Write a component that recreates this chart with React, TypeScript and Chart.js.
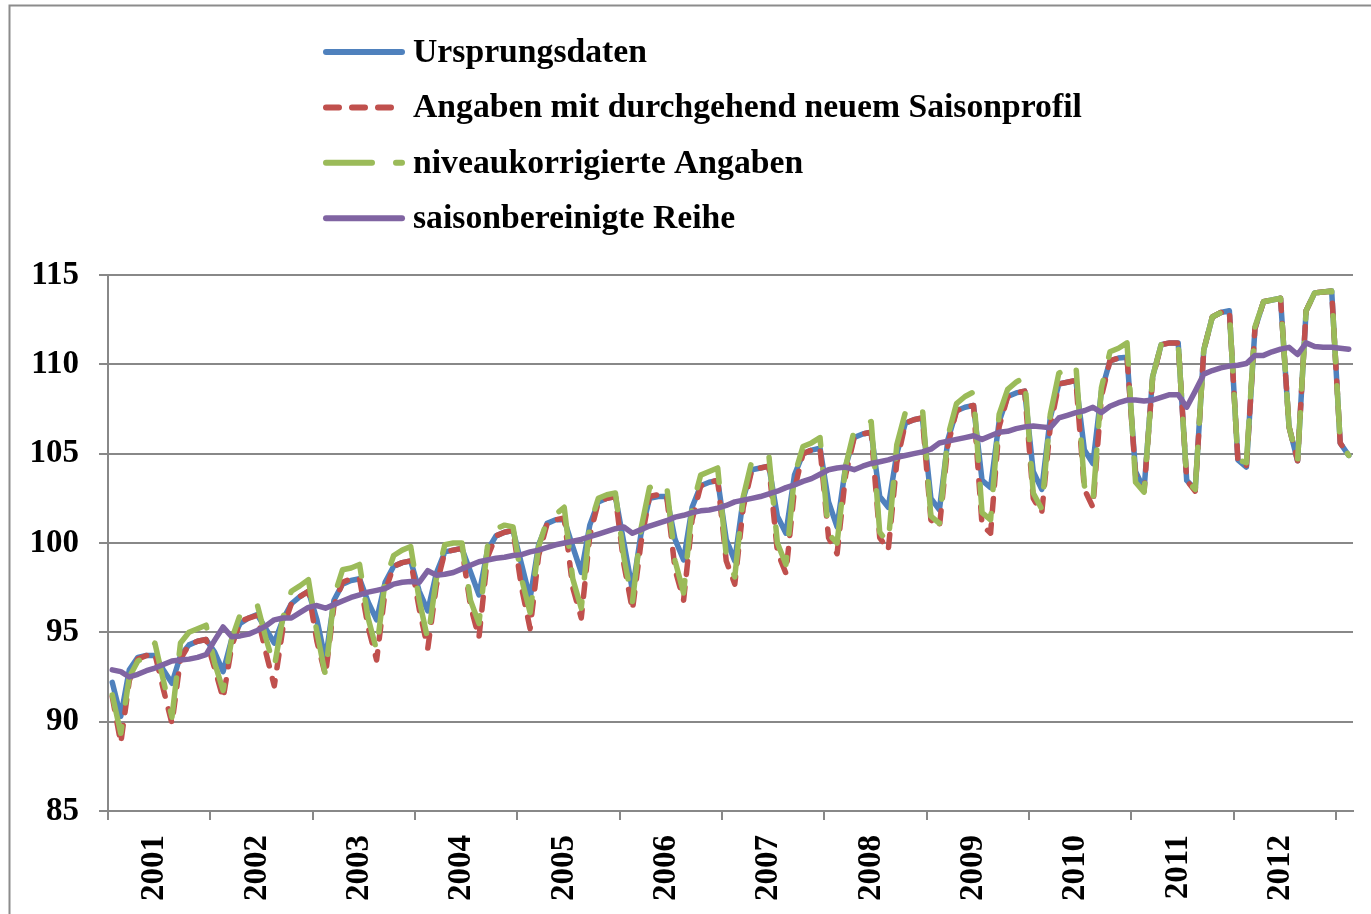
import React, { useEffect, useRef } from 'react';
import { Chart, registerables } from 'chart.js';

Chart.register(...registerables);

// ---------- data ----------
const years = ['2001', '2002', '2003', '2004', '2005', '2006', '2007', '2008', '2009', '2010', '2011', '2012'];
const monthNames = ['Jan', 'Feb', 'Mär', 'Apr', 'Mai', 'Jun', 'Jul', 'Aug', 'Sep', 'Okt', 'Nov', 'Dez'];
const extraMonths = ['Jan 2013', 'Feb 2013'];
const categories = [...years.flatMap((y) => monthNames.map((m) => `${m} ${y}`)), ...extraMonths];

const seriesNames = [
  'Ursprungsdaten',
  'Angaben mit durchgehend neuem Saisonprofil',
  'niveaukorrigierte Angaben',
  'saisonbereinigte Reihe',
];

const ursprungsdaten = [
  92.2, 90.3, 92.9, 93.6, 93.7, 93.7, 92.9, 92.15, 93.7, 94.3, 94.5, 94.6,
  93.9, 92.8, 94.6, 95.5, 95.8, 96.0, 95.2, 94.4, 95.7, 96.6, 97.0, 97.3,
  95.7, 93.45, 96.8, 97.7, 97.9, 98.0, 96.7, 95.7, 97.8, 98.7, 98.9, 99.0,
  97.3, 96.2, 98.3, 99.5, 99.6, 99.7, 98.4, 97.1, 99.6, 100.4, 100.6, 100.7,
  98.8, 96.9, 99.9, 101.1, 101.3, 101.3, 99.8, 98.35, 101.0, 102.3, 102.5, 102.6,
  100.0, 97.35, 100.5, 102.5, 102.6, 102.6, 100.2, 99.05, 102.0, 103.2, 103.4, 103.5,
  100.2, 99.0, 102.5, 104.1, 104.2, 104.3, 101.5, 100.55, 103.8, 105.0, 105.2, 105.3,
  102.3, 100.9, 104.3, 105.9, 106.1, 106.2, 102.6, 102.0, 105.0, 106.7, 106.9, 107.0,
  102.5, 101.85, 105.8, 107.4, 107.6, 107.7, 103.5, 103.1, 106.8, 108.2, 108.4, 108.5,
  104.0, 103.0, 107.0, 108.9, 109.0, 109.1, 105.2, 104.45, 108.5, 110.2, 110.35, 110.4,
  104.0, 103.0, 109.3, 111.1, 111.2, 111.2, 103.5, 103.0, 110.8, 112.65, 112.9, 113.0,
  104.65, 104.25, 112.0, 113.5, 113.6, 113.7, 106.5, 104.6, 113.0, 114.0, 114.05, 114.1,
  105.6, 104.9,
];

const neuesSaisonprofil = [
  91.4, 88.8, 92.3, 93.5, 93.7, 93.8, 91.8, 89.9, 93.5, 94.3, 94.5, 94.6,
  93.0, 91.3, 94.2, 95.6, 95.8, 95.95, 93.9, 92.0, 95.2, 96.6, 97.0, 97.3,
  94.5, 92.6, 96.5, 97.8, 98.0, 98.0, 95.3, 93.45, 97.3, 98.7, 98.9, 99.0,
  96.3, 94.1, 97.6, 99.5, 99.6, 99.7, 96.5, 94.7, 99.2, 100.4, 100.6, 100.7,
  97.5, 95.2, 99.3, 101.1, 101.3, 101.4, 97.5, 95.8, 100.4, 102.3, 102.5, 102.6,
  98.8, 96.25, 100.0, 102.6, 102.7, 102.7, 98.5, 96.8, 101.3, 103.2, 103.4, 103.5,
  99.0, 97.7, 102.0, 104.1, 104.2, 104.3, 99.5, 98.3, 103.0, 105.0, 105.2, 105.3,
  100.3, 99.4, 103.8, 105.9, 106.1, 106.2, 100.3, 99.6, 104.5, 106.7, 106.9, 107.0,
  101.3, 100.9, 105.5, 107.4, 107.6, 107.7, 101.0, 100.55, 106.5, 108.2, 108.4, 108.5,
  102.5, 101.7, 106.5, 108.9, 109.0, 109.1, 103.0, 102.0, 108.2, 110.2, 110.35, 110.4,
  103.8, 102.9, 109.2, 111.1, 111.2, 111.2, 103.5, 102.9, 110.8, 112.65, 112.9, 113.0,
  104.65, 104.3, 112.0, 113.5, 113.6, 113.7, 106.5, 104.6, 113.0, 114.0, 114.05, 114.1,
  105.6, 104.9,
];

const niveaukorrigiert = [
  91.5, 89.35, 92.5, 93.4, 93.6, 94.4, 92.3, 90.25, 94.4, 95.0, 95.2, 95.4,
  93.3, 91.75, 94.6, 96.0, 96.3, 96.55, 94.7, 93.05, 95.8, 97.3, 97.6, 97.95,
  95.0, 92.6, 97.0, 98.5, 98.6, 98.8, 95.8, 94.0, 97.9, 99.3, 99.6, 99.8,
  96.8, 94.6, 98.0, 99.9, 100.0, 100.0, 96.8, 95.5, 99.8, 100.8, 101.0, 100.9,
  98.0, 96.1, 99.8, 101.3, 101.6, 102.0, 98.0, 96.35, 101.0, 102.5, 102.7, 102.8,
  99.2, 96.7, 100.8, 103.1, 103.3, 103.3, 99.0, 97.2, 102.0, 103.8, 104.0, 104.2,
  99.3, 98.1, 102.6, 104.6, 104.8, 104.9, 100.0, 98.8, 103.8, 105.4, 105.6, 105.9,
  100.5, 100.0, 104.3, 106.3, 106.6, 106.8, 100.6, 100.0, 105.5, 107.3, 107.5, 107.6,
  101.5, 101.1, 106.0, 107.8, 108.2, 108.45, 101.7, 101.3, 107.2, 108.6, 109.0, 109.3,
  102.8, 101.9, 107.2, 109.5, 109.8, 110.0, 103.2, 102.3, 108.7, 110.7, 110.9, 111.2,
  103.4, 102.85, 109.3, 111.1, 111.2, 111.2, 103.5, 103.0, 110.8, 112.65, 112.9, 113.0,
  104.65, 104.5, 112.1, 113.5, 113.6, 113.7, 106.5, 104.6, 113.0, 114.0, 114.05, 114.1,
  105.6, 104.9,
];

const saisonbereinigt = [
  92.9, 92.8, 92.5, 92.65, 92.85, 93.0, 93.2, 93.4, 93.45, 93.5, 93.6, 93.75,
  94.55, 95.3, 94.75, 94.8, 94.9, 95.1, 95.35, 95.7, 95.8, 95.8, 96.1, 96.4,
  96.5, 96.35, 96.55, 96.75, 96.95, 97.1, 97.25, 97.35, 97.45, 97.7, 97.8, 97.85,
  97.8, 98.45, 98.2, 98.25, 98.35, 98.55, 98.75, 98.95, 99.05, 99.15, 99.2, 99.3,
  99.35, 99.5, 99.6, 99.75, 99.9, 100.0, 100.1, 100.2, 100.35, 100.5, 100.65, 100.8,
  100.9, 100.55, 100.75, 100.95, 101.1, 101.25, 101.45, 101.55, 101.7, 101.8, 101.85, 101.95,
  102.1, 102.3, 102.4, 102.5, 102.6, 102.75, 102.9, 103.1, 103.25, 103.45, 103.6, 103.85,
  104.1, 104.2, 104.25, 104.1, 104.3, 104.45, 104.55, 104.65, 104.8, 104.9, 105.0, 105.1,
  105.25, 105.6, 105.7, 105.8, 105.9, 106.0, 105.8, 106.0, 106.2, 106.25, 106.4, 106.5,
  106.55, 106.5, 106.45, 107.0, 107.15, 107.3, 107.4, 107.6, 107.3, 107.65, 107.85, 108.0,
  108.0, 107.95, 108.0, 108.15, 108.3, 108.3, 107.6, 108.5, 109.45, 109.65, 109.8, 109.9,
  109.95, 110.05, 110.5, 110.5, 110.7, 110.85, 110.95, 110.55, 111.2, 111.0, 110.95, 110.95,
  110.9, 110.85,
];

const yMin = 85;
const yMax = 115;
const yStep = 5;

// ---------- styles ----------
const FONT_FAMILY = '"Liberation Serif", "Times New Roman", serif';
const FONT_SIZE = 33;
const LEGEND_FONT_SIZE = 33.7;
const GRID = '#888888';

const legendPlugin = {
  id: 'customLegendAndFrame',
  afterDraw(chart: any) {
    const ctx = chart.ctx;
    ctx.save();
    // outer frame
    ctx.strokeStyle = '#8c8c8c';
    ctx.lineWidth = 2;
    ctx.setLineDash([]);
    ctx.beginPath();
    ctx.moveTo(9.5, 914);
    ctx.lineTo(9.5, 5.5);
    ctx.lineTo(1371, 5.5);
    ctx.stroke();
    // legend
    chart.data.datasets.forEach((ds: any, i: number) => {
      const y = 52 + i * 55.4;
      ctx.setLineDash(ds.borderDash || []);
      ctx.lineCap = 'round';
      ctx.strokeStyle = ds.borderColor;
      ctx.lineWidth = 6;
      ctx.beginPath();
      ctx.moveTo(326, y);
      ctx.lineTo(402, y);
      ctx.stroke();
      ctx.setLineDash([]);
      ctx.fillStyle = '#000';
      ctx.font = `bold ${LEGEND_FONT_SIZE}px ${FONT_FAMILY}`;
      ctx.textAlign = 'left';
      ctx.textBaseline = 'alphabetic';
      ctx.fillText(ds.label, 413, y + 10);
    });
    ctx.restore();
  },
};

export default function App() {
  const canvasRef = useRef<HTMLCanvasElement | null>(null);

  useEffect(() => {
    if (!canvasRef.current) return;
    const font = { family: FONT_FAMILY, size: FONT_SIZE, weight: 'bold' as const };
    const common = {
      pointRadius: 0,
      pointHoverRadius: 0,
      borderWidth: 5.5,
      tension: 0,
      fill: false,
      borderCapStyle: 'round' as const,
      borderJoinStyle: 'round' as const,
    };
    const chart = new Chart(canvasRef.current, {
      type: 'line',
      data: {
        labels: categories,
        datasets: [
          { ...common, label: seriesNames[0], data: ursprungsdaten, borderColor: '#4F81BD', backgroundColor: '#4F81BD', order: 4 },
          { ...common, label: seriesNames[1], data: neuesSaisonprofil, borderColor: '#C0504D', backgroundColor: '#C0504D', borderDash: [13, 13], order: 3 },
          { ...common, label: seriesNames[2], data: niveaukorrigiert, borderColor: '#9BBB59', backgroundColor: '#9BBB59', borderDash: [46, 24], order: 2 },
          { ...common, label: seriesNames[3], data: saisonbereinigt, borderColor: '#8064A2', backgroundColor: '#8064A2', order: 1 },
        ],
      },
      options: {
        responsive: false,
        animation: false,
        devicePixelRatio: 1,
        layout: { padding: { top: 275, right: 18, bottom: 0, left: 0 } },
        plugins: {
          legend: { display: false },
          tooltip: { enabled: false },
        },
        scales: {
          x: {
            type: 'category',
            offset: true,
            grid: {
              display: true,
              offset: true,
              drawOnChartArea: false,
              drawTicks: true,
              tickLength: 9,
              lineWidth: 2,
              color: (c: any) => (c.index % 12 === 0 && c.index <= years.length * 12 ? GRID : 'rgba(0,0,0,0)'),
            },
            border: { display: true, color: GRID, width: 2 },
            ticks: {
              autoSkip: false,
              maxRotation: 90,
              minRotation: 90,
              padding: 15,
              color: '#000',
              font,
              callback: (_v: any, i: number) => (i % 12 === 5 && i < years.length * 12 ? years[Math.floor(i / 12)] : ''),
            },
            afterFit: (s: any) => {
              s.height = 103;
              s.paddingLeft = 0;
              s.paddingRight = 0;
            },
          },
          y: {
            min: yMin,
            max: yMax,
            ticks: { stepSize: yStep, padding: 20, color: '#000', font },
            grid: { color: GRID, lineWidth: 2, tickLength: 9, drawTicks: true },
            border: { display: true, color: GRID, width: 2 },
            afterFit: (s: any) => {
              s.width = 108;
              s.paddingTop = 0;
              s.paddingBottom = 0;
            },
          },
        },
      },
      plugins: [legendPlugin],
    });
    return () => chart.destroy();
  }, []);

  return (
    <div style={{ position: 'absolute', left: 0, top: 0, width: 1371, height: 914, background: '#fff' }}>
      <canvas ref={canvasRef} width={1371} height={914} style={{ display: 'block' }} />
    </div>
  );
}
